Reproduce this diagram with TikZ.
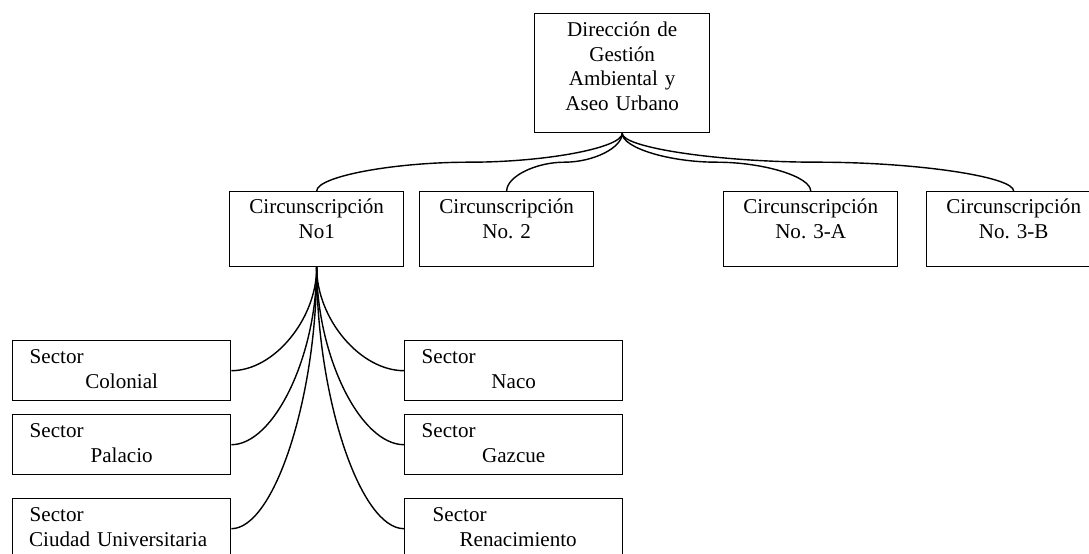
\documentclass[tikz,border=0pt]{standalone}
\usepackage{fontspec}
\setmainfont{Liberation Serif}
\usetikzlibrary{calc}
\frenchspacing

\tikzset{
  caja/.style={draw, line width=0.8pt, inner sep=0pt, align=center, anchor=north west,
    font=\fontsize{12}{14}\selectfont},
  circ/.style={caja, text width=3.48cm, text height=0.44cm, text depth=1.06cm},
  sector/.style={caja, text width=4.36cm, text height=0.46cm, text depth=0.74cm},
  conector/.style={line width=0.8pt}
}

% texto de un sector: "Sector" a la izquierda, nombre centrado
\newcommand{\sect}[2][0.34cm]{\hspace*{#1}Sector\hfill\null\\#2}

% conector curvo de arriba hacia abajo
\newcommand{\sconn}[2]{%
  \draw[conector] let \p1=(#1), \p2=(#2) in
    (\p1) .. controls (\x1,{0.75*\y1+0.25*\y2}) and ({0.75*\x1+0.25*\x2},{0.5*\y1+0.5*\y2})
    .. ({0.5*\x1+0.5*\x2},{0.5*\y1+0.5*\y2})
    .. controls ({0.25*\x1+0.75*\x2},{0.5*\y1+0.5*\y2}) and (\x2,{0.25*\y1+0.75*\y2}) .. (\p2);}

% conector curvo hacia un lado
\newcommand{\lconn}[2]{%
  \draw[conector] let \p1=(#1), \p2=(#2) in
    (\p1) .. controls (\x1,{0.5*\y1+0.5*\y2}) and ({0.5*\x1+0.5*\x2},\y2) .. (\p2);}

\begin{document}
\begin{tikzpicture}[x=0.02cm, y=-0.02cm]
  \clip (0,0) rectangle (1089,554);

  % Dirección
  \node[caja, text width=3.5cm, text height=0.46cm, text depth=1.92cm] (dir) at (534,13)
    {Dirección de\\Gestión\\Ambiental y\\Aseo Urbano};

  % Circunscripciones
  \node[circ] (c1) at (229,191) {Circunscripción\\No1};
  \node[circ] (c2) at (419,191) {Circunscripción\\No. 2};
  \node[circ] (c3a) at (723,191) {Circunscripción\\No. 3-A};
  \node[circ] (c3b) at (926,191) {Circunscripción\\No. 3-B};

  % Sectores
  \node[sector] (colonial) at (12,340) {\sect{Colonial}};
  \node[sector] (palacio) at (12,414) {\sect{Palacio}};
  \node[sector] (ciudad) at (12,498) {\sect{\hspace*{-0.14cm}Ciudad Universitaria}};
  \node[sector] (naco) at (404,340) {\sect{Naco}};
  \node[sector] (gazcue) at (404,414) {\sect{Gazcue}};
  \node[sector] (renac) at (404,498) {\sect[0.56cm]{\hspace*{0.18cm}Renacimiento}};

  % Conectores
  \foreach \c in {c1,c2,c3a,c3b} {\sconn{dir.south}{\c.north}}
  \foreach \s in {colonial,palacio,ciudad} {\lconn{c1.south}{\s.east}}
  \foreach \s in {naco,gazcue,renac} {\lconn{c1.south}{\s.west}}
\end{tikzpicture}
\end{document}
